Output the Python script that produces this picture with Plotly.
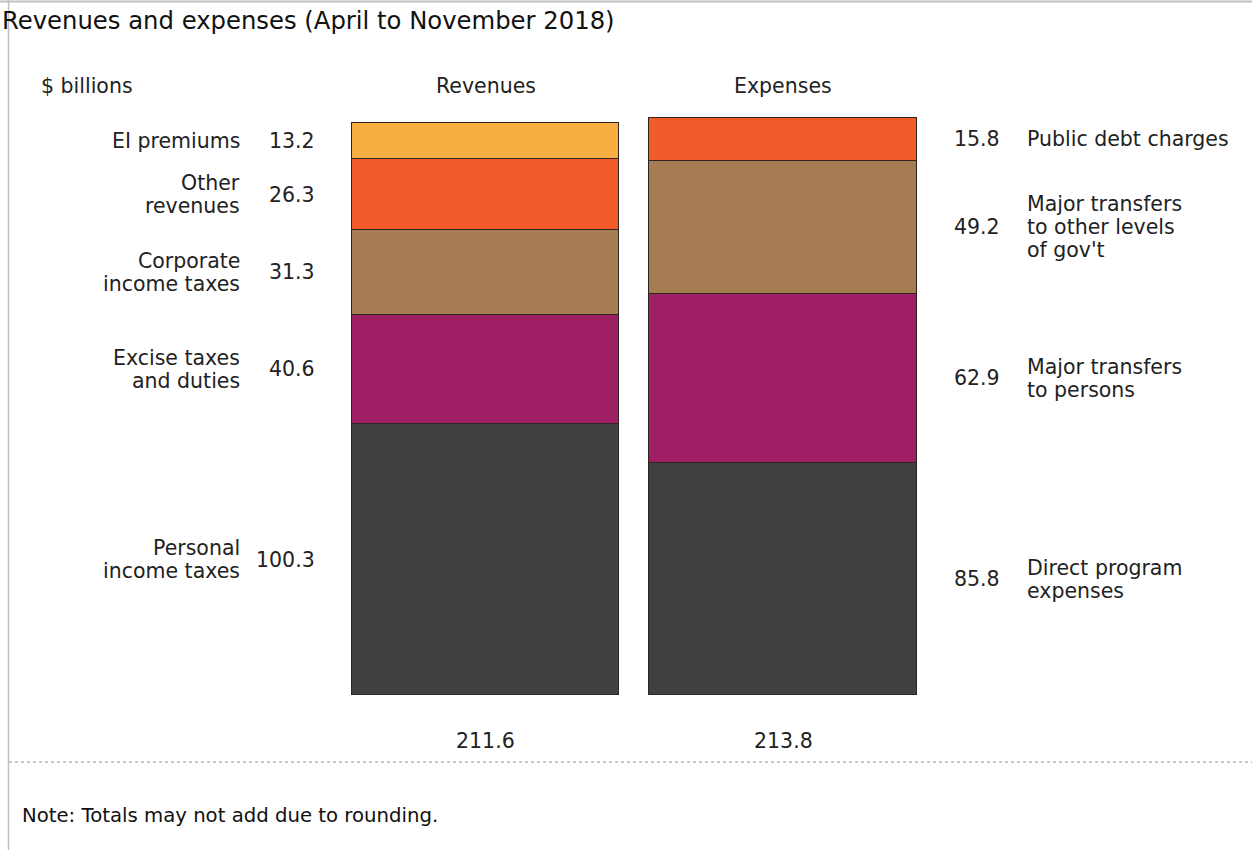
import plotly.graph_objects as go

# ---------------- data ----------------
bars = ["Revenues", "Expenses"]
rev_labels = ["Personal\nincome taxes", "Excise taxes\nand duties", "Corporate\nincome taxes",
              "Other\nrevenues", "EI premiums"]
rev_values = [100.3, 40.6, 31.3, 26.3, 13.2]
exp_labels = ["Direct program\nexpenses", "Major transfers\nto persons",
              "Major transfers\nto other levels\nof gov't", "Public debt charges"]
exp_values = [85.8, 62.9, 49.2, 15.8]
totals = [211.6, 213.8]
title_text = "Revenues and expenses (April to November 2018)"
unit_text = "$ billions"
note_text = "Note: Totals may not add due to rounding."

# ---------------- style ----------------
colors = ["#404042", "#9E1F63", "#A67C52", "#F15A29", "#F9AE41"]
W, H = 1252, 850
BASE_PX = 695.0          # pixel row of the zero line
PX_PER_UNIT = 2.70
X0_PX, X1_PX = 485.5, 783.0
PX_PER_X = X1_PX - X0_PX
FONT = "DejaVu Sans"
TXT = "#222222"
FS = 20.5
LINE = 23

def px_x(p):
    return p / W

def px_y(p):
    return 1 - p / H

y_lo = (BASE_PX - H) / PX_PER_UNIT
y_hi = BASE_PX / PX_PER_UNIT
x_lo = -X0_PX / PX_PER_X
x_hi = (W - X0_PX) / PX_PER_X

fig = go.Figure()
nlev = max(len(rev_values), len(exp_values))
for i in range(nlev):
    yv = [rev_values[i] if i < len(rev_values) else None,
          exp_values[i] if i < len(exp_values) else None]
    fig.add_trace(go.Bar(
        x=[0, 1], y=yv, width=0.9,
        marker=dict(color=colors[i], line=dict(color="#2e2420", width=1)),
        hoverinfo="skip", showlegend=False))

annotations = []

def add_multiline(text, xref, x, y, xanchor, yref="y"):
    lines = text.split("\n")
    n = len(lines)
    for k, ln in enumerate(lines):
        annotations.append(dict(
            text=ln, xref=xref, x=x, yref=yref, y=y, xanchor=xanchor, yanchor="middle",
            yshift=((n - 1) / 2 - k) * LINE, showarrow=False,
            font=dict(family=FONT, size=FS, color=TXT)))

cum = 0.0
for lab, v in zip(rev_labels, rev_values):
    mid = cum + v / 2
    add_multiline(lab, "paper", px_x(242), mid, "right")
    add_multiline(f"{v:.1f}", "paper", px_x(317), mid, "right")
    cum += v

cum = 0.0
for lab, v in zip(exp_labels, exp_values):
    mid = cum + v / 2
    add_multiline(f"{v:.1f}", "paper", px_x(952), mid, "left")
    add_multiline(lab, "paper", px_x(1025), mid, "left")
    cum += v

# headers
annotations.append(dict(text=unit_text, xref="paper", x=px_x(39), yref="paper", y=px_y(86),
                        xanchor="left", yanchor="middle", showarrow=False,
                        font=dict(family=FONT, size=FS, color=TXT)))
for i, b in enumerate(bars):
    annotations.append(dict(text=b, xref="x", x=i, yref="paper", y=px_y(86),
                            xanchor="center", yanchor="middle", showarrow=False,
                            font=dict(family=FONT, size=FS, color=TXT)))
    annotations.append(dict(text=f"{totals[i]:.1f}", xref="x", x=i, yref="paper", y=px_y(741),
                            xanchor="center", yanchor="middle", showarrow=False,
                            font=dict(family=FONT, size=FS, color=TXT)))

annotations.append(dict(text=title_text, xref="paper", x=0, yref="paper", y=px_y(20),
                        xanchor="left", yanchor="middle", showarrow=False,
                        font=dict(family=FONT, size=24.3, color="#111111")))
annotations.append(dict(text=note_text, xref="paper", x=px_x(20), yref="paper", y=px_y(815),
                        xanchor="left", yanchor="middle", showarrow=False,
                        font=dict(family=FONT, size=19.7, color="#111111")))

shapes = [
    dict(type="line", xref="paper", yref="paper", x0=0, x1=1, y0=px_y(1.5), y1=px_y(1.5),
         line=dict(color="#c0c0c0", width=2)),
    dict(type="line", xref="paper", yref="paper", x0=px_x(8.5), x1=px_x(8.5), y0=0, y1=1,
         line=dict(color="#c0c0c0", width=1.5)),
    dict(type="line", xref="paper", yref="paper", x0=px_x(9), x1=1, y0=px_y(762), y1=px_y(762),
         line=dict(color="#c8c8c8", width=2, dash="dot")),
]

fig.update_layout(
    width=W, height=H, margin=dict(l=0, r=0, t=0, b=0),
    paper_bgcolor="white", plot_bgcolor="rgba(0,0,0,0)",
    barmode="stack", bargap=0,
    xaxis=dict(range=[x_lo, x_hi], visible=False, fixedrange=True),
    yaxis=dict(range=[y_lo, y_hi], visible=False, fixedrange=True),
    annotations=annotations, shapes=shapes, showlegend=False,
)

fig.write_html("out.html", config={"displayModeBar": False})
